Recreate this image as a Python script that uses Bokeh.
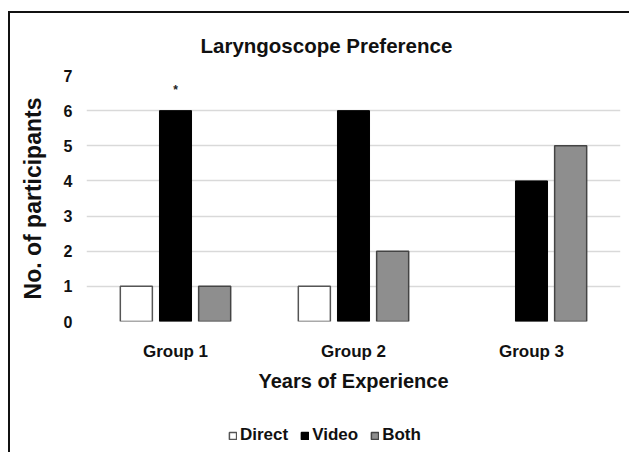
from bokeh.plotting import figure
from bokeh.layouts import column
from bokeh.models import ColumnDataSource, FactorRange, Legend, LegendItem
from bokeh.transform import dodge
from bokeh.core.properties import value
from bokeh.embed import file_html
from bokeh.resources import INLINE

groups = ["Group 1", "Group 2", "Group 3"]
direct = [1, 1, 0]
video = [6, 6, 4]
both = [1, 2, 5]
y_ticks = [0, 1, 2, 3, 4, 5, 6, 7]
sig_group = ["Group 1"]
sig_value = [6.6]
sig_text = ["*"]
series_names = ["Direct", "Video", "Both"]

FONT = "Liberation Sans"
FILLS = ["white", "black", "#8e8e8e"]
LINES = ["#555", "black", "#444"]

src = ColumnDataSource(dict(
    groups=groups, direct=direct, video=video, both=both,
    direct_alpha=[1.0 if v > 0 else 0.0 for v in direct],
))

p = figure(x_range=FactorRange(*groups, range_padding=0), y_range=(0, 7),
           width=619, height=381, output_backend="svg", toolbar_location=None,
           min_border_left=76, min_border_right=9, min_border_top=62, min_border_bottom=72)

p.title.text = "Laryngoscope Preference"
p.title.align = "left"
p.title.offset = 114
p.title.text_font = FONT
p.title.text_font_size = "20.5px"
p.title.text_font_style = "bold"
p.title.text_color = "#111"
p.title.standoff = 37

w = 0.18
p.vbar(x=dodge("groups", -0.22, range=p.x_range), top="direct", width=w, source=src,
       fill_color=FILLS[0], line_color=LINES[0], line_width=1.5, line_alpha="direct_alpha",
       fill_alpha="direct_alpha")
p.vbar(x=dodge("groups", 0.0, range=p.x_range), top="video", width=w, source=src,
       fill_color=FILLS[1], line_color=LINES[1])
p.vbar(x=dodge("groups", 0.22, range=p.x_range), top="both", width=w, source=src,
       fill_color=FILLS[2], line_color=LINES[2], line_width=1.5)

p.text(x=sig_group, y=sig_value, text=sig_text, text_align="center", text_baseline="middle",
       text_font=value(FONT), text_font_size="12px", text_font_style="bold", text_color="#222")

p.outline_line_color = None
p.xgrid.grid_line_color = None
p.ygrid.grid_line_color = "#d9d9d9"
p.ygrid.grid_line_width = 1.5
p.yaxis.ticker = y_ticks

for ax in (p.xaxis, p.yaxis):
    ax.axis_line_color = None
    ax.major_tick_line_color = None
    ax.minor_tick_line_color = None
    ax.major_label_text_font = FONT
    ax.major_label_text_font_style = "bold"
    ax.major_label_text_color = "#111"
    ax.axis_label_text_font = FONT
    ax.axis_label_text_font_style = "bold"
    ax.axis_label_text_color = "#111"

p.xaxis.major_label_text_font_size = "17px"
p.xaxis.major_label_standoff = 14
p.xaxis.axis_label = "Years of Experience"
p.xaxis.axis_label_text_font_size = "20px"
p.xaxis.axis_label_standoff = 6

p.yaxis.major_label_text_font_size = "16px"
p.yaxis.major_label_standoff = 8
p.yaxis.axis_label = "No. of participants"
p.yaxis.axis_label_text_font_size = "23px"
p.yaxis.axis_label_standoff = 15

# legend strip below the chart (its frame is aligned with the chart's frame)
q = figure(x_range=(0, 1), y_range=(0, 1), width=619, height=58,
           output_backend="svg", toolbar_location=None,
           x_axis_location=None, y_axis_location=None,
           min_border_left=0, min_border_right=0, min_border_top=0, min_border_bottom=0)
q.outline_line_color = None
q.grid.grid_line_color = None
items = []
for name, fc, lc in zip(series_names, FILLS, LINES):
    # placeholder glyph outside the visible range, used only for the legend swatch
    r = q.quad(left=[5], right=[6], bottom=[5], top=[6],
               fill_color=fc, line_color=lc, line_width=1.5)
    items.append(LegendItem(label=name, renderers=[r]))

legend = Legend(items=items, orientation="horizontal", location=(142, 7),
                label_text_font=FONT, label_text_font_size="17px", label_text_font_style="bold",
                label_text_color="#111", glyph_width=9, glyph_height=9, label_standoff=3,
                spacing=12, padding=0, margin=0, border_line_color=None,
                background_fill_alpha=0)
q.add_layout(legend, "center")

layout = column(p, q, spacing=0)
layout.margin = (11, 0, 0, 8)
layout.styles = {"border-left": "2px solid #111", "border-top": "2px solid #111"}

open("out.html", "w").write(file_html(layout, INLINE))
